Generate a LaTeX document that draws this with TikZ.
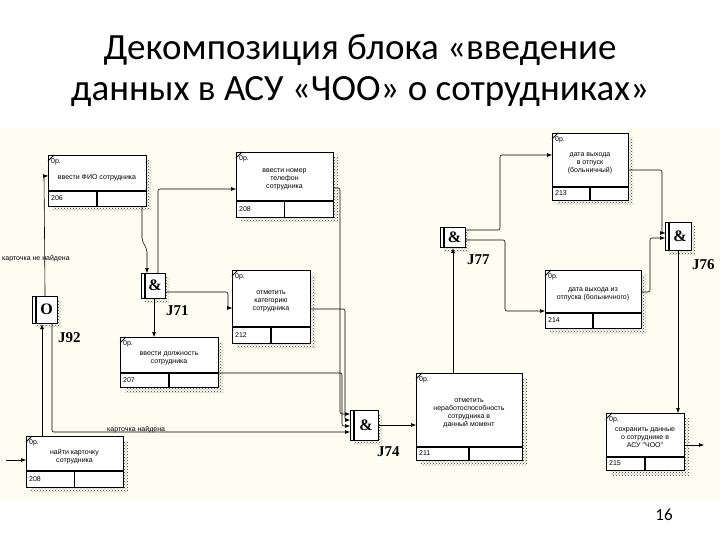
\documentclass[tikz,border=0pt]{standalone}
\usepackage{fontspec}
\setmainfont{Carlito}
\newfontfamily\boxf{Liberation Sans}
\newfontfamily\jf{Liberation Serif}
\usetikzlibrary{patterns,arrows.meta}
\definecolor{cream}{HTML}{FEFDF2}
\tikzset{
 box/.style={draw,line width=1.1pt,fill=white,inner sep=0},
 shad/.style={pattern=crosshatch dots,pattern color=black!80},
 con/.style={line width=0.6pt,-{Latex[length=5pt,width=4pt]},rounded corners=2pt},
 lbl/.style={font=\boxf\fontsize{7}{8}\selectfont,align=center,inner sep=0},
 jl/.style={font=\jf\bfseries\fontsize{15}{15}\selectfont,anchor=west,inner sep=0}
}
\newcommand\ibox[8]{%
 \fill[shad] (#2+5,#3+5) rectangle (#4+5,#5+5);
 \node[box,minimum width={(#4-#2)*1pt},minimum height={(#5-#3)*1pt},anchor=north west] (#1) at (#2,#3) {};
 \draw[line width=1.1pt] (#2,#6) -- (#4,#6);
 \draw[line width=1.1pt] ({(#2+#4)/2},#6) -- ({(#2+#4)/2},#5);
 \draw[line width=0.8pt] (#2,#3+6) -- (#2+6,#3);
 \node[lbl,anchor=north west] at (#2+3,#3+3) {0р.};
 \node[lbl,anchor=west] at (#2+3,{(#6+#5)/2}) {#7};
 \node[lbl] at ({(#2+#4)/2},{(#3+#6)/2+3}) {#8};
}
\newcommand\junc[6]{%
 \fill[shad] (#2+4,#3+4) rectangle (#4+4,#5+4);
 \node[box,minimum width={(#4-#2)*1pt},minimum height={(#5-#3)*1pt},anchor=north west] (#1) at (#2,#3) {};
 \draw[line width=1.1pt] (#2+4,#3) -- (#2+4,#5);
 \node[font=\jf\bfseries\fontsize{16}{16}\selectfont,inner sep=0] at ({(#2+#4)/2+2},{(#3+#5)/2}) {#6};
}
\begin{document}
\begin{tikzpicture}[x=1pt,y=-1pt]
\useasboundingbox (0,0) rectangle (720,540);
\fill[white] (0,0) rectangle (720,540);
\fill[cream] (0,128) rectangle (720,500);
\node[font=\fontsize{37}{37}\selectfont] (t1) at (360,50) {Декомпозиция блока «введение};
\node[font=\fontsize{37}{37}\selectfont] (t2) at (360,92) {данных в АСУ «ЧОО» о сотрудниках»};
\node[font=\fontsize{17}{17}\selectfont] (pn) at (664,515) {16};

\ibox{b206}{48}{155}{146}{206}{191}{206}{\\ввести ФИО сотрудника}
\ibox{b208p}{236}{152}{333}{217}{201}{208}{ввести номер\\телефон\\сотрудника}
\ibox{b212}{232}{270}{310}{343}{327}{212}{отметить\\категорию\\сотрудника}
\ibox{b207}{120}{337}{218}{387}{373}{207}{ввести должность\\сотрудника}
\ibox{b208}{26}{436}{123}{487}{471}{208}{найти карточку\\сотрудника}
\ibox{b211}{416}{373}{522}{460}{447}{211}{отметить\\неработоспособность\\сотрудника в\\данный момент}
\ibox{b215}{606}{413}{684}{470}{457}{215}{сохранить данные\\о сотруднике в\\АСУ "ЧОО"}
\ibox{b213}{552}{133}{628}{200}{187}{213}{дата выхода\\в отпуск\\(больничный)}
\ibox{b214}{545}{270}{641}{328}{313}{214}{дата выхода из\\отпуска (больничного)}

\junc{j71}{141}{273}{165}{298}{\&}
\junc{j92}{32}{296}{57}{323}{O}
\junc{j74}{350}{410}{378}{440}{\&}
\junc{j77}{440}{227}{465}{247}{\&}
\junc{j76}{665}{222}{691}{250}{\&}
\node[jl] at (166,311) {J71};
\node[jl] at (58,338) {J92};
\node[jl] at (377,452) {J74};
\node[jl] at (467,260) {J77};
\node[jl] at (692,265) {J76};

% connectors
\draw[con] (j92.north) -- (44,176) -- (b206.west |- 0,176);
\node[lbl,anchor=west] at (2,259) {карточка не найдена};
\draw[con] (b206.south -| 142,0) -- (142,240) -- (147,250) -- (j71.north -| 147,0);
\draw[con] (j71.north -| 158,0) |- (b208p.west |- 0,189);
\draw[con] (j71.east |- 0,292) -- (228,292) |- (b212.west |- 0,308);
\draw[con] (j71.south -| 154,0) -- (b207.north -| 154,0);
\draw[con] (b208.north -| 42,0) -- (j92.south -| 42,0);
\draw[con] (j92.south -| 52,0) |- (j74.west |- 0,432);
\node[lbl,anchor=west] at (107,430) {карточка найдена};
\draw[con] (b208p.east |- 0,188) -- (340,188) |- (j74.west |- 0,414);
\draw[con] (b212.east |- 0,309) -- (345,309) |- (j74.west |- 0,420);
\draw[con] (b207.east |- 0,373) -- (342,373) |- (j74.west |- 0,426);
\draw[con] (j74.east |- 0,425) -- (b211.west |- 0,425);
\draw[con] (b211.north -| 453,0) -- (j77.south -| 453,0);
\draw[con] (j77.east |- 0,230) -- (500,230) |- (b213.west |- 0,155);
\draw[con] (j77.east |- 0,240) -- (505,240) |- (b214.west |- 0,311);
\draw[con] (b213.east |- 0,170) -- (662,170) |- (j76.west |- 0,233);
\draw[con] (b214.east |- 0,292) -- (650,292) |- (j76.west |- 0,238);
\draw[con] (j76.south -| 678,0) -- (b215.north -| 678,0);
\coordinate (o1) at (704,445);
\coordinate (i1) at (6,460);
\draw[con] (b215.east |- 0,445) -- (o1);
\draw[con] (i1) -- (b208.west |- 0,460);
\end{tikzpicture}
\end{document}
